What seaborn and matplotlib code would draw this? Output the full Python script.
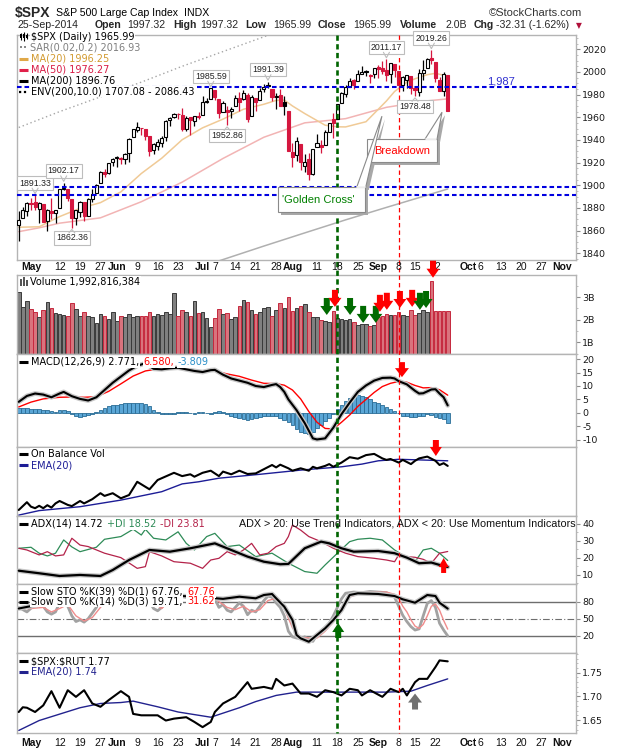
import numpy as np
import pandas as pd
import matplotlib
matplotlib.use("Agg")
import matplotlib.pyplot as plt
import matplotlib.patheffects as pe
from matplotlib.patches import Rectangle, Polygon
from matplotlib.ticker import MultipleLocator
import seaborn as sns

# ------------------------------------------------------------------ data
dates = pd.bdate_range("2014-04-28", "2014-09-25", freq="C",
                       holidays=["2014-05-26", "2014-07-04", "2014-09-01"])
prev_close = 1863.40

opens = [1865.00, 1870.78, 1877.10, 1884.39, 1885.30, 1879.45, 1883.69, 1868.53, 1877.39, 1875.27,
         1880.03, 1896.75, 1897.13, 1888.16, 1871.19, 1876.66, 1884.88, 1873.34, 1888.19, 1893.32,
         1902.01, 1911.77, 1910.60, 1920.33, 1923.87, 1923.07, 1923.06, 1928.52, 1942.41, 1948.97,
         1950.34, 1949.37, 1943.35, 1930.80, 1934.84, 1937.15, 1942.73, 1957.50, 1960.45, 1962.92,
         1961.97, 1949.27, 1959.89, 1956.56, 1960.79, 1962.29, 1973.06, 1975.88, 1984.22, 1976.39,
         1965.10, 1966.67, 1965.76, 1969.86, 1977.36, 1976.35, 1979.75, 1961.54, 1976.93, 1975.65,
         1985.32, 1988.07, 1984.60, 1978.25, 1980.03, 1973.21, 1965.14, 1929.80, 1926.62, 1936.34,
         1917.29, 1923.03, 1910.35, 1933.43, 1935.73, 1935.60, 1947.41, 1958.87, 1958.36, 1972.73,
         1980.46, 1986.82, 1992.60, 1991.74, 1998.59, 2000.54, 1997.42, 1998.45, 2004.07, 2003.57,
         2001.67, 1998.00, 2007.17, 2000.73, 1988.41, 1992.85, 1996.74, 1986.04, 1981.93, 1999.30,
         2003.07, 2012.74, 2009.08, 1992.78, 1983.34, 1997.32]
highs = [1877.01, 1880.60, 1885.20, 1888.59, 1891.33, 1885.51, 1883.69, 1878.83, 1889.07, 1878.57,
         1897.13, 1902.17, 1897.13, 1888.16, 1878.28, 1886.00, 1884.88, 1888.80, 1896.33, 1901.26,
         1912.28, 1914.46, 1920.03, 1924.03, 1925.88, 1925.07, 1928.63, 1941.74, 1949.44, 1955.55,
         1950.86, 1949.37, 1943.35, 1937.30, 1941.15, 1943.69, 1957.74, 1959.87, 1963.91, 1963.74,
         1968.17, 1960.83, 1959.89, 1961.47, 1964.24, 1978.58, 1976.67, 1985.59, 1984.22, 1976.39,
         1974.15, 1969.84, 1968.67, 1979.85, 1982.52, 1983.94, 1981.80, 1979.91, 1976.93, 1986.24,
         1989.23, 1991.39, 1984.60, 1981.52, 1984.85, 1978.90, 1965.14, 1937.35, 1942.92, 1936.34,
         1927.91, 1928.89, 1932.38, 1944.90, 1939.65, 1948.41, 1955.23, 1964.04, 1971.99, 1982.57,
         1988.57, 1994.76, 1993.54, 2001.95, 2005.04, 2002.14, 1998.55, 2003.38, 2006.12, 2009.28,
         2011.17, 2007.71, 2007.17, 2001.01, 1996.66, 1997.65, 1996.74, 1987.18, 2002.28, 2010.74,
         2012.34, 2019.26, 2009.08, 1995.41, 1999.79, 1997.32]
lows = [1850.61, 1870.78, 1872.69, 1878.04, 1878.50, 1866.77, 1867.72, 1859.79, 1870.05, 1867.02,
        1880.03, 1896.06, 1885.77, 1862.36, 1864.82, 1872.42, 1868.14, 1873.34, 1885.39, 1893.32,
        1902.01, 1907.30, 1909.82, 1916.64, 1915.98, 1918.79, 1918.60, 1920.50, 1942.41, 1947.16,
        1944.64, 1940.08, 1925.78, 1927.69, 1930.91, 1933.55, 1939.29, 1952.26, 1959.17, 1958.89,
        1948.34, 1947.49, 1944.69, 1952.18, 1958.22, 1962.29, 1972.58, 1975.88, 1975.68, 1959.46,
        1965.10, 1952.86, 1959.63, 1969.86, 1965.34, 1975.67, 1955.59, 1960.82, 1965.77, 1975.65,
        1982.44, 1985.79, 1974.37, 1967.31, 1969.95, 1962.42, 1930.67, 1916.37, 1921.20, 1913.77,
        1911.45, 1904.78, 1909.01, 1933.43, 1928.29, 1935.60, 1947.41, 1941.50, 1958.36, 1972.73,
        1977.68, 1986.82, 1984.76, 1991.74, 1998.59, 1996.20, 1990.52, 1994.65, 1994.85, 1998.14,
        1992.44, 1990.10, 1995.60, 1984.61, 1982.99, 1985.93, 1980.26, 1978.48, 1979.06, 1993.29,
        2003.07, 2006.59, 1991.01, 1982.77, 1978.63, 1965.99]
closes = [1869.43, 1878.33, 1883.95, 1883.68, 1881.14, 1884.66, 1867.72, 1878.21, 1875.63, 1878.48,
          1896.65, 1897.45, 1888.53, 1870.85, 1877.86, 1885.08, 1872.83, 1888.03, 1892.49, 1900.53,
          1911.91, 1909.78, 1920.03, 1923.57, 1924.97, 1924.24, 1927.88, 1940.46, 1949.44, 1951.27,
          1950.79, 1943.89, 1930.11, 1936.16, 1937.78, 1941.99, 1956.98, 1959.48, 1962.87, 1962.61,
          1949.98, 1959.53, 1957.22, 1960.96, 1960.23, 1973.32, 1974.62, 1985.44, 1977.65, 1963.71,
          1972.83, 1964.68, 1967.57, 1977.10, 1973.28, 1981.57, 1958.12, 1978.22, 1973.63, 1983.53,
          1987.01, 1987.98, 1978.34, 1978.91, 1969.95, 1970.07, 1930.67, 1925.15, 1938.99, 1920.21,
          1920.24, 1909.57, 1931.59, 1936.92, 1933.75, 1946.72, 1955.18, 1955.06, 1971.74, 1981.60,
          1986.51, 1992.37, 1988.40, 1997.92, 2000.02, 2000.12, 1996.74, 2003.37, 2002.28, 2000.72,
          1997.65, 2007.71, 2001.54, 1988.44, 1995.69, 1997.45, 1985.54, 1984.13, 1998.98, 2001.57,
          2011.36, 2010.40, 1994.29, 1982.77, 1998.30, 1965.99]

volume_b = [3.22, 2.58, 2.82, 2.47, 2.33, 2.11, 2.42, 2.78, 2.51, 2.29,
            2.26, 2.21, 2.17, 2.73, 2.49, 2.15, 2.33, 2.15, 2.12, 1.86,
            2.26, 2.15, 2.04, 2.33, 1.93, 2.15, 2.12, 2.24, 2.14, 2.15,
            2.15, 2.15, 2.36, 2.18, 2.27, 2.23, 2.33, 2.26, 3.18, 2.17,
            2.42, 2.36, 2.15, 2.82, 2.29, 2.33, 2.08, 1.67, 2.07, 2.47,
            2.26, 2.30, 2.04, 2.11, 2.61, 2.87, 2.78, 2.44, 2.26, 2.35,
            2.51, 2.55, 2.17, 2.44, 2.73, 2.54, 3.00, 2.38, 2.51, 2.60,
            2.70, 2.36, 2.11, 2.11, 1.99, 1.96, 1.92, 2.39, 2.07, 2.02,
            1.99, 2.04, 1.89, 1.77, 1.80, 1.80, 1.71, 1.75, 2.11, 2.17,
            2.24, 2.21, 2.19, 2.33, 2.21, 2.17, 2.44, 2.21, 2.32, 2.41,
            2.33, 3.72, 2.40, 2.40, 2.40, 2.40]
volume_dir = ("GGGRRGRGRG" "GGRRGGRGGG" "GRGGGRGGGG" "RRRGGGGGGR" "RGRGRGGGRR"
              "GRGGRGRGRG" "GGRGRGRRGR" "GRGGRGGRGG" "GGRGGGRGRR" "RGRRGGRRGG" "GRRRRR")

ma20_idx = [0, 5, 10, 15, 20, 25, 30, 35, 40, 45, 50, 55, 60, 63, 65, 67, 70, 75, 78, 80, 85, 87, 90, 92, 95, 97, 100, 102, 105]
ma20_val = [1863.0, 1863.4, 1872.4, 1879.7, 1884.7, 1894.2, 1910.4, 1923.9, 1940.2, 1950.7, 1958.4, 1967.1,
            1971.5, 1974.9, 1975.2, 1970.0, 1963.3, 1953.0, 1951.6, 1951.5, 1956.1, 1963.4, 1974.4, 1982.8,
            1991.0, 1994.0, 1997.6, 1998.8, 1996.25]
ma50_idx = [0, 5, 10, 20, 30, 40, 50, 60, 70, 80, 90, 100, 105]
ma50_val = [1859.1, 1862.5, 1866.6, 1871.3, 1885.5, 1902.8, 1923.7, 1942.4, 1955.1, 1958.8, 1968.8, 1974.5, 1976.27]
ma200_idx = [40, 50, 60, 70, 80, 90, 100, 105]
ma200_val = [1822.7, 1834.5, 1846.4, 1858.0, 1869.5, 1880.5, 1891.3, 1896.76]
env_idx = [0, 10, 20, 30, 40, 50, 60, 70]
env_val = [1951, 1965, 1978, 1991, 2005, 2018, 2031, 2044]
hlines_blue = [1987.0, 1898.8, 1891.33]

macd_idx = [0, 2, 4, 6, 8, 10, 11, 13, 15, 17, 19, 21, 23, 25, 27, 29, 31, 33, 35, 37, 39, 41, 43, 45, 47,
            48, 50, 52, 54, 56, 58, 60, 62, 63, 64, 65, 66, 68, 70, 72, 73, 75, 77, 79, 81, 83, 85, 87, 89,
            91, 92, 93, 95, 97, 98, 99, 101, 102, 103, 104, 105]
macd_val = [4.1, 6.3, 7.2, 6.8, 5.8, 7.2, 7.8, 6.2, 5.2, 4.6, 5.8, 8.5, 11.2, 13.5, 15.8, 17.5, 18.5, 16.4,
            16.2, 16.6, 16.8, 16.2, 15.6, 15.2, 15.9, 16.0, 14.2, 12.8, 12.0, 11.2, 10.0, 9.6, 10.4, 10.7,
            9.6, 7.8, 5.0, 1.0, -3.8, -9.5, -9.9, -9.5, -5.5, -0.5, 3.8, 7.8, 10.2, 12.0, 13.0, 13.1, 12.8,
            11.8, 10.6, 8.2, 7.2, 7.3, 8.7, 8.8, 7.2, 5.8, 2.771]
signal_idx = [0, 3, 6, 10, 13, 16, 19, 22, 25, 28, 31, 33, 36, 40, 44, 48, 51, 54, 57, 60, 63, 65, 67, 69,
              71, 73, 75, 77, 79, 81, 83, 85, 87, 89, 91, 93, 95, 97, 99, 101, 103, 105]
signal_val = [2.2, 4.0, 5.2, 5.8, 5.9, 5.8, 6.0, 8.0, 10.8, 13.7, 15.6, 16.1, 16.6, 16.5, 15.6, 15.6, 14.5,
              13.6, 12.2, 11.0, 10.9, 10.3, 8.5, 5.2, 0.5, -3.5, -5.8, -6.0, -3.5, -0.8, 2.4, 5.0, 7.6, 9.8,
              11.0, 11.7, 11.4, 10.2, 9.3, 9.4, 8.6, 6.58]
macd_hist = [1.9, 1.8, 1.7, 1.6, 1.5, 1.4, 1.2, 1.0, 0.8, 0.2, 1.0, 1.2, 0.6, -0.6, -1.0, -1.4, -1.2, -0.8,
             -0.5, 0.5, 1.0, 1.8, 2.4, 2.8, 3.0, 3.2, 3.5, 3.7, 3.8, 3.7, 3.6, 3.2, 2.6, 1.0, 0.2, -0.3,
             -0.5, -0.6, -0.3, 0.3, 0.5, 0.3, -0.2, -0.4, 0.2, 0.4, 0.1, -0.3, 0.5, 0.6, 0.3, -0.5,
             -1.0, -1.5, -1.8, -2.2, -2.5, -2.2, -1.8, -1.5, -1.2, -1.0, -1.3, -1.0, -1.8, -2.8, -3.5, -4.5,
             -6.0, -7.0, -7.5, -7.8, -7.3, -5.5, -4.5, -3.0, -1.8, -0.4, 1.5, 3.0, 4.5, 5.5,
             6.2, 6.5, 6.3, 5.8, 5.0, 4.2, 3.5, 2.8, 2.2, 1.6, 0.8, -0.2, -1.0, -1.3, -1.5, -1.4, -1.2, -1.0,
             -0.6, -0.9, -1.4, -2.0, -2.4, -3.809]

obv_idx = [0, 2, 3, 4, 5, 6, 7, 8, 9, 10, 12, 13, 15, 16, 18, 20, 21, 23, 25, 27, 29, 32, 34, 38, 40, 42,
           43, 45, 47, 49, 50, 52, 54, 56, 58, 60, 62, 63, 64, 66, 67, 69, 71, 72, 73, 75, 76, 77, 79, 81,
           83, 85, 87, 89, 90, 91, 93, 94, 96, 97, 98, 100, 102, 103, 104, 105]
obv_val = [2.0, 4.6, 3.1, 2.6, 3.4, 2.6, 3.6, 2.8, 4.2, 5.0, 3.7, 3.3, 5.0, 4.2, 5.6, 7.6, 6.7, 7.6, 5.9,
           7.0, 11.4, 8.9, 12.0, 14.4, 13.3, 13.9, 13.1, 14.4, 15.1, 13.3, 14.8, 13.9, 15.1, 14.0, 14.2,
           15.6, 17.0, 16.2, 17.1, 15.9, 15.1, 15.9, 15.1, 16.4, 15.9, 16.7, 17.3, 16.4, 17.8, 19.6, 19.1,
           20.3, 20.7, 19.2, 18.7, 19.0, 17.8, 18.7, 17.3, 18.4, 19.2, 19.8, 18.4, 17.0, 17.6, 16.7]
obv_ema_idx = [0, 5, 15, 25, 35, 40, 44, 49, 59, 69, 79, 84, 88, 93, 98, 105]
obv_ema_val = [0.3, 1.8, 3.1, 5.3, 8.1, 10.7, 11.4, 12.6, 13.9, 15.3, 16.4, 17.3, 18.4, 18.9, 18.7, 18.4]

adx_idx = [0, 5, 10, 15, 20, 23, 27, 32, 37, 42, 48, 52, 56, 60, 64, 66, 70, 74, 76, 79, 82, 88, 92, 95,
           98, 101, 103, 105]
adx_val = [12.5, 11.0, 9.4, 10.0, 9.4, 12.9, 18.8, 24.7, 23.7, 25.7, 28.6, 24.7, 20.8, 17.8, 16.3, 16.5,
           25.7, 29.6, 28.6, 25.7, 23.7, 24.1, 22.8, 20.2, 16.9, 17.3, 15.9, 14.72]
pdi_idx = [0, 3, 5, 7, 9, 11, 13, 15, 19, 21, 25, 28, 30, 31, 33, 36, 39, 41, 43, 46, 48, 51, 54, 58, 62,
           66, 70, 73, 75, 78, 81, 83, 86, 89, 92, 95, 97, 99, 101, 103, 105]
pdi_val = [25.7, 26.3, 22.8, 21.2, 22.8, 30.6, 26.5, 23.7, 26.3, 31.0, 32.6, 36.9, 33.5, 36.9, 31.6, 30.6,
           35.4, 28.6, 24.7, 32.6, 34.5, 26.7, 27.6, 20.8, 22.8, 16.9, 12.0, 11.0, 15.9, 22.8, 29.6, 31.0,
           31.6, 30.6, 24.7, 20.2, 17.8, 24.7, 25.7, 22.8, 18.52]
mdi_idx = [0, 2, 5, 7, 9, 11, 13, 15, 17, 21, 25, 29, 31, 32, 35, 38, 42, 45, 47, 49, 51, 53, 55, 57, 59,
           61, 63, 65, 66, 67, 69, 71, 74, 77, 80, 83, 87, 90, 92, 93, 95, 97, 99, 101, 103, 105]
mdi_val = [25.7, 24.7, 21.8, 23.7, 21.2, 21.8, 31.6, 27.6, 26.7, 22.8, 20.2, 13.9, 14.9, 23.7, 21.2, 17.8,
           16.9, 13.9, 18.8, 19.8, 23.7, 21.8, 24.7, 28.6, 21.8, 22.8, 26.7, 28.6, 32.6, 39.4, 36.4, 32.6,
           29.6, 25.7, 22.8, 20.8, 19.8, 18.8, 17.8, 21.8, 20.8, 20.4, 19.2, 16.9, 22.8, 23.81]

k39_idx = [0, 5, 10, 15, 20, 25, 30, 35, 40, 45, 50, 54, 58, 60, 62, 63, 65, 67, 68, 69, 71, 73, 75, 77,
           79, 81, 83, 88, 92, 94, 97, 100, 102, 103, 105]
k39_val = [68, 75, 80, 78, 85, 92, 92, 88, 90, 88, 85, 88.8, 86, 91.8, 93.6, 86, 71.2, 47.7, 21.3, 15.4,
           9.4, 21.3, 33.1, 47.7, 65.3, 91.8, 94.8, 93.6, 90, 84.2, 78.2, 91.8, 90, 78.2, 67.76]
k14_idx = [0, 2, 4, 6, 7, 8, 9, 10, 11, 12, 13, 14, 15, 16, 17, 18, 19, 20, 22, 25, 28, 31, 32, 33, 34,
           35, 36, 38, 40, 42, 43, 45, 47, 48, 49, 50, 51, 52, 53, 54, 55, 56, 57, 58, 59, 60, 61, 62, 63,
           64, 65, 66, 67, 68, 69, 70, 71, 72, 73, 74, 75, 76, 77, 78, 79, 80, 82, 84, 86, 88, 90, 92, 93,
           94, 95, 96, 97, 98, 99, 100, 101, 102, 103, 104, 105]
k14_val = [70, 62, 75, 72, 62, 58, 62, 78, 85, 72, 55, 45, 48, 44, 50, 60, 70, 82, 92, 95, 97, 92, 80, 68,
           64, 70, 85, 95, 90, 85, 73, 88, 96, 85, 70, 75, 65, 62, 70, 78, 72, 57, 65, 62, 72, 82, 90, 88,
           78, 70, 55, 28, 18, 16, 15, 18, 14, 10, 22, 28, 35, 42, 55, 70, 85, 95, 97, 96, 98, 97, 96, 88,
           72, 56, 45, 36, 30, 32, 55, 77, 82, 70, 42, 30, 19.71]
d3_idx = [0, 3, 6, 8, 10, 12, 14, 16, 18, 20, 22, 25, 28, 31, 33, 35, 37, 40, 43, 45, 47, 49, 51, 53, 55,
          57, 59, 61, 63, 65, 67, 69, 71, 73, 75, 77, 79, 81, 84, 90, 92, 93, 94, 95, 96, 97, 98, 99, 100,
          101, 102, 103, 104, 105]
d3_val = [68, 68, 70, 62, 68, 75, 55, 46, 52, 70, 85, 94, 96, 92, 78, 68, 82, 92, 82, 84, 92, 80, 70, 66,
          72, 62, 66, 82, 86, 68, 34, 17, 16, 16, 28, 44, 70, 88, 96, 97, 93, 86, 72, 62, 48, 37, 33, 40,
          55, 72, 76, 65, 47, 31.62]

ratio_idx = [0, 1, 2, 4, 6, 8, 10, 12, 14, 16, 18, 20, 22, 25, 27, 28, 30, 34, 36, 38, 41, 43, 45, 47, 48,
             50, 53, 56, 57, 60, 62, 63, 65, 67, 69, 71, 73, 75, 77, 79, 81, 83, 84, 86, 89, 91, 93, 94,
             95, 97, 98, 100, 102, 103, 105]
ratio_val = [1.667, 1.677, 1.676, 1.667, 1.681, 1.711, 1.676, 1.713, 1.699, 1.713, 1.685, 1.678, 1.692,
             1.711, 1.699, 1.663, 1.660, 1.660, 1.649, 1.653, 1.656, 1.646, 1.635, 1.646, 1.667, 1.685,
             1.699, 1.730, 1.716, 1.720, 1.716, 1.737, 1.723, 1.727, 1.706, 1.706, 1.699, 1.713, 1.709,
             1.702, 1.716, 1.713, 1.702, 1.713, 1.699, 1.716, 1.709, 1.716, 1.702, 1.730, 1.737, 1.737,
             1.762, 1.776, 1.774]
ratio_ema_idx = [0, 5, 15, 20, 25, 28, 34, 39, 47, 54, 58, 63, 68, 80, 90, 96, 100, 105]
ratio_ema_val = [1.628, 1.649, 1.676, 1.685, 1.687, 1.690, 1.678, 1.667, 1.656, 1.676, 1.689, 1.702,
                 1.709, 1.709, 1.709, 1.711, 1.723, 1.737]

date_labels = ["May", "12", "19", "27", "Jun", "9", "16", "23", "Jul", "7", "14", "21", "28", "Aug", "11",
               "18", "25", "Sep", "8", "15", "22", "Oct", "6", "13", "20", "27", "Nov"]
date_label_pos = [3, 10, 15, 20, 24, 29, 34, 39, 45, 48, 53, 58, 63, 67, 73, 78, 83, 88, 92.9, 97, 102,
                  110, 113, 118, 123, 128, 133]

n = len(dates)
assert n == 106
for arr in (opens, highs, lows, closes, volume_b, macd_hist):
    assert len(arr) == n, len(arr)
assert len(volume_dir) == n
for a, b in ((ma20_idx, ma20_val), (ma50_idx, ma50_val), (ma200_idx, ma200_val), (env_idx, env_val),
             (macd_idx, macd_val), (signal_idx, signal_val), (obv_idx, obv_val), (obv_ema_idx, obv_ema_val),
             (adx_idx, adx_val), (pdi_idx, pdi_val), (mdi_idx, mdi_val), (k39_idx, k39_val),
             (k14_idx, k14_val), (d3_idx, d3_val), (ratio_idx, ratio_val), (ratio_ema_idx, ratio_ema_val)):
    assert len(a) == len(b), (len(a), len(b))

# ------------------------------------------------------------------ figure
sns.set_theme(style="white")
plt.rcParams["font.family"] = ["DejaVu Sans"]

W, H = 620, 750
fig = plt.figure(figsize=(6.2, 7.5), dpi=100)
fig.patch.set_facecolor("white")
X0, X1 = 16.7, 576.0
XL = (-0.5, 136.4)


def add_panel(top, bottom):
    return fig.add_axes([X0 / W, 1 - bottom / H, (X1 - X0) / W, (bottom - top) / H])


ax_p = add_panel(35, 260)
ax_v = add_panel(275, 354.3)
ax_m = add_panel(354.3, 446.7)
ax_o = add_panel(446.7, 516)
ax_a = add_panel(516, 584.3)
ax_s = add_panel(584.3, 653.3)
ax_r = add_panel(653.3, 733.3)

UP, DN = "#000000", "#d5173f"
idx = np.arange(n)

# ---- candles
for i in range(n):
    o, h, l, c = opens[i], highs[i], lows[i], closes[i]
    pc = prev_close if i == 0 else closes[i - 1]
    col = UP if c >= pc else DN
    ax_p.vlines(i, l, h, color=col, lw=0.9, zorder=3)
    fill = "white" if c >= o else col
    ax_p.add_patch(Rectangle((i - 0.38, min(o, c)), 0.76, max(abs(c - o), 0.4),
                             facecolor=fill, edgecolor=col, lw=0.8, zorder=4))

sns.lineplot(x=env_idx, y=env_val, ax=ax_p, color="#a6a6a6", linewidth=1.0, linestyle=(0, (1, 2)), zorder=2)
sns.lineplot(x=ma200_idx, y=ma200_val, ax=ax_p, color="#b0b0b0", linewidth=1.1, zorder=2)
sns.lineplot(x=ma50_idx, y=ma50_val, ax=ax_p, color="#f2b4b4", linewidth=1.1, zorder=2)
sns.lineplot(x=ma20_idx, y=ma20_val, ax=ax_p, color="#f0ca96", linewidth=1.1, zorder=2)
for lv in hlines_blue:
    ax_p.axhline(lv, color="#0000e0", lw=1.5, ls=(0, (2.2, 1.4)), zorder=5)

# ---- volume
vcols = ["#808080" if d == "G" else "#d9737d" for d in volume_dir]
vedges = ["#3a3a3a" if d == "G" else "#c5283e" for d in volume_dir]
ax_v.bar(idx, volume_b, width=0.88, color=vcols, edgecolor=vedges, linewidth=0.7, zorder=2)

# ---- MACD
ax_m.bar(idx, macd_hist, width=0.92, color="#5aa6d6", edgecolor="#2a6d96", linewidth=0.6, zorder=2)
sns.lineplot(x=signal_idx, y=signal_val, ax=ax_m, color="#ff0000", linewidth=1.0, zorder=3)
halo = [pe.Stroke(linewidth=3.4, foreground="#c6c6c6"), pe.Normal()]
sns.lineplot(x=macd_idx, y=macd_val, ax=ax_m, color="black", linewidth=1.5, zorder=4, path_effects=halo)

# ---- OBV
sns.lineplot(x=obv_ema_idx, y=obv_ema_val, ax=ax_o, color="#1c1c96", linewidth=1.0, zorder=2)
sns.lineplot(x=obv_idx, y=obv_val, ax=ax_o, color="black", linewidth=1.5, zorder=3)

# ---- ADX
sns.lineplot(x=pdi_idx, y=pdi_val, ax=ax_a, color="#2e8b57", linewidth=0.9, zorder=2)
sns.lineplot(x=mdi_idx, y=mdi_val, ax=ax_a, color="#b4234a", linewidth=0.9, zorder=2)
sns.lineplot(x=adx_idx, y=adx_val, ax=ax_a, color="black", linewidth=1.6, zorder=3, path_effects=halo)

# ---- Slow STO
for lv, ls, lw in ((80, "-", 1.0), (20, "-", 1.0), (50, (0, (6, 2, 1, 2)), 0.8)):
    ax_s.axhline(lv, color="#6e6e6e", lw=lw, ls=ls, zorder=1)
sns.lineplot(x=k14_idx, y=k14_val, ax=ax_s, color="#a2a2a2", linewidth=2.0, zorder=2)
sns.lineplot(x=d3_idx, y=d3_val, ax=ax_s, color="#f08c8c", linewidth=1.0, zorder=3)
sns.lineplot(x=k39_idx, y=k39_val, ax=ax_s, color="black", linewidth=1.5, zorder=4, path_effects=halo)

# ---- SPX:RUT
sns.lineplot(x=ratio_ema_idx, y=ratio_ema_val, ax=ax_r, color="#22228e", linewidth=1.0, zorder=2)
sns.lineplot(x=ratio_idx, y=ratio_val, ax=ax_r, color="black", linewidth=1.5, zorder=3)


def style(ax, ylim, ticks=None, labels=None, minor=None):
    ax.set_xlim(*XL)
    ax.set_ylim(*ylim)
    ax.set_facecolor("white")
    ax.set_xlabel("")
    ax.set_ylabel("")
    ax.grid(False)
    for s in ax.spines.values():
        s.set_color("#b4b4b4")
        s.set_linewidth(1.0)
    ax.set_xticks([])
    ax.yaxis.tick_right()
    if ticks is None:
        ax.set_yticks([])
    else:
        ax.set_yticks(ticks)
        ax.set_yticklabels(labels)
    if minor is not None:
        ax.yaxis.set_minor_locator(MultipleLocator(minor))
    ax.tick_params(axis="y", which="major", right=True, left=False, direction="out", length=3,
                   width=0.8, color="#8c8c8c", pad=1.5, labelsize=6.8, labelcolor="#1a1a1a")
    ax.tick_params(axis="y", which="minor", right=True, left=False, direction="out", length=1.6,
                   width=0.6, color="#b4b4b4")


pt = list(range(1840, 2021, 20))
style(ax_p, (1834.1, 2032.6), pt, [str(v) for v in pt], 5)
style(ax_v, (0.47, 3.98), [1, 2, 3], ["1B", "2B", "3B"], 0.5)
mt = [-10, -5, 0, 5, 10, 15, 20]
style(ax_m, (-12.6, 21.8), mt, [str(v) for v in mt])
style(ax_o, (0, 23.1))
style(ax_a, (4.5, 44.7), [10, 20, 30, 40], ["10", "20", "30", "40"], 5)
style(ax_s, (-11.0, 110.7), [20, 50, 80], ["20", "50", "80"])
style(ax_r, (1.622, 1.791), [1.65, 1.70, 1.75], ["1.65", "1.70", "1.75"], 0.01)

# ------------------------------------------------------------------ overlay (pixel coords)
ov = fig.add_axes([0, 0, 1, 1], zorder=10)
ov.set_xlim(0, W)
ov.set_ylim(H, 0)
ov.axis("off")
ov.patch.set_alpha(0)
R = fig.canvas.get_renderer()


def to_px(ax, x, y):
    X, Y = ax.transData.transform((x, y))
    return float(X), float(H - Y)


def rich(x, y, segs, size=7.0, family="DejaVu Sans", bg=True, gap=None):
    g = size * 0.45 if gap is None else gap
    for s in segs:
        txt, col = s[0], s[1]
        wt = s[2] if len(s) > 2 else "normal"
        t = ov.text(x, y, txt, color=col, fontsize=size, family=family, fontweight=wt, ha="left",
                    va="center", zorder=9,
                    bbox=dict(facecolor="white", edgecolor="none", pad=0.5) if bg else None)
        x += t.get_window_extent(renderer=R).width + g
    return x


def leg_line(x, y, color, lw=2.2, ls="-"):
    ov.plot([x, x + 9], [y, y], color=color, lw=lw, ls=ls, solid_capstyle="butt", zorder=9)


def block_arrow(xc, ytip, direction, color, w=13, h=17, sw=6, hh=9):
    s = 1 if direction == "down" else -1
    yb = ytip - s * h
    yh = ytip - s * hh
    pts = [(xc, ytip), (xc - w / 2, yh), (xc - sw / 2, yh), (xc - sw / 2, yb), (xc + sw / 2, yb),
           (xc + sw / 2, yh), (xc + w / 2, yh)]
    ov.add_patch(Polygon(pts, closed=True, facecolor=color, edgecolor="none", zorder=7))


# header
ov.text(15, 12.5, "$SPX", fontsize=10, fontweight="bold", family="Liberation Sans", va="center")
rich(56, 13, [("S&P 500 Large Cap Index", "black"), ("INDX", "black")], size=7.6,
     family="Liberation Sans", bg=False, gap=6)
ov.text(582, 13, "\u00a9StockCharts.com", fontsize=8, family="Liberation Sans", va="center", ha="right",
        color="#333333")
hdr = [("25-Sep-2014", 17, "normal"), ("Open", 95, "bold"), ("1997.32", 127, "normal"),
       ("High", 173, "bold"), ("1997.32", 200, "normal"), ("Low", 245, "bold"),
       ("1965.99", 273, "normal"), ("Close", 318, "bold"), ("1965.99", 353, "normal"),
       ("Volume", 400, "bold"), ("2.0B", 445, "normal"), ("Chg", 474, "bold"),
       ("-32.31 (-1.62%)", 496, "normal")]
for txt, x, wt in hdr:
    ov.text(x, 25, txt, fontsize=7.6, family="Liberation Sans", fontweight=wt, va="center")
ov.text(576, 25.5, "\u25bc", fontsize=5.5, color="#b0103a", va="center")

# vertical event lines
for xi, col, lw, ls in ((77.9, "#006400", 1.9, (0, (2.0, 1.3))), (93.1, "#ff0000", 0.9, (0, (3.5, 2.5)))):
    xp, _ = to_px(ax_p, xi, 2000)
    ov.plot([xp, xp], [35, 733], color=col, lw=lw, ls=ls, zorder=3)

# date strips
months = {"May", "Jun", "Jul", "Aug", "Sep", "Oct", "Nov"}
for lab, pos in zip(date_labels, date_label_pos):
    xp, _ = to_px(ax_p, pos, 2000)
    for yy in (267.5, 743.5):
        ov.text(xp, yy, lab, ha="center", va="center", fontsize=7.5, family="Liberation Sans",
                fontweight="bold" if lab in months else "normal", color="#111111", zorder=4)

# price tags
tags = [(4, True), (11, True), (13, False), (47, True), (51, False), (61, True), (90, True), (97, False),
        (101, True)]
for i, above in tags:
    val = highs[i] if above else lows[i]
    xp, yp = to_px(ax_p, i, val)
    cy = yp - 12 if above else yp + 10
    ov.text(xp, cy, f"{val:.2f}", fontsize=6.3, family="Liberation Sans", ha="center", va="center",
            color="#222222", zorder=8,
            bbox=dict(boxstyle="square,pad=0.25", facecolor="white", edgecolor="#bdbdbd", lw=0.8))
    if above:
        ov.plot([xp - 3, xp, xp + 3], [cy + 5, yp - 1.5, cy + 5], color="#bdbdbd", lw=0.8, zorder=8)
    else:
        ov.plot([xp - 3, xp, xp + 3], [cy - 5, yp + 1.5, cy - 5], color="#bdbdbd", lw=0.8, zorder=8)

xp, yp = to_px(ax_p, 118, 1987)
ov.text(xp, yp - 5.5, "1,987", fontsize=8, family="Liberation Sans", color="#3030d0", ha="center",
        va="center", zorder=8)


# callouts
def callout(box, wedge, text, color, tx, ha):
    x0, y0, x1, y1 = box
    sh = 3
    ov.add_patch(Polygon([(p[0] + sh, p[1] + sh) for p in wedge], closed=True, facecolor="#a8a8a8",
                         edgecolor="none", zorder=6))
    ov.add_patch(Rectangle((x0 + sh, y0 + sh), x1 - x0, y1 - y0, facecolor="#a8a8a8", edgecolor="none",
                           zorder=6))
    ov.add_patch(Rectangle((x0, y0), x1 - x0, y1 - y0, facecolor="white", edgecolor="#8a8a8a", lw=0.8,
                           zorder=6.5))
    ov.add_patch(Polygon(wedge, closed=True, facecolor="white", edgecolor="#8a8a8a", lw=0.8, zorder=6.6))
    ov.plot([wedge[0][0] + 0.6, wedge[2][0] - 0.6], [y0, y0], color="white", lw=1.2, zorder=6.7)
    ov.text(tx, (y0 + y1) / 2 + 0.5, text, color=color, fontsize=8, family="Liberation Sans", ha=ha,
            va="center", zorder=6.8)


gx0, gy0 = to_px(ax_p, 63.5, 1898.5)
gx1, gy1 = to_px(ax_p, 84.7, 1876.5)
tipx, tipy = to_px(ax_p, 88.9, 1961.0)
callout((gx0, gy0, gx1, gy1), [(gx1 - 8, gy0), (tipx, tipy), (gx1 + 1, gy0)], "'Golden Cross'",
        "#008000", gx0 + 4, "left")
bx0, by0 = to_px(ax_p, 85.2, 1940.9)
bx1, by1 = to_px(ax_p, 102.4, 1920.6)
tipx, tipy = to_px(ax_p, 103.6, 1964.5)
callout((bx0, by0, bx1, by1), [(bx1 - 12, by0), (tipx, tipy), (bx1, by0)], "Breakdown", "#ff0000",
        (bx0 + bx1) / 2, "center")

# arrows
GREEN, RED, GRAY = "#006a00", "#ff0000", "#707070"
for xi, v in ((75.4, 2.21), (81.1, 2.21), (84.3, 1.86), (87.4, 1.86)):
    block_arrow(*to_px(ax_v, xi, v), "down", GREEN)
for xi, v in ((77.4, 2.57), (88.4, 2.35), (90.1, 2.44), (93.3, 2.52), (96.3, 2.57)):
    block_arrow(*to_px(ax_v, xi, v), "down", RED)
for xi, v in ((98.2, 2.44), (99.7, 2.52)):
    block_arrow(*to_px(ax_v, xi, v), "down", GREEN)
block_arrow(*to_px(ax_v, 101.4, 3.86), "down", RED)
block_arrow(*to_px(ax_m, 93.8, 13.3), "down", RED, w=14, h=15)
block_arrow(*to_px(ax_o, 102.1, 20.0), "down", RED, w=12, h=16)
block_arrow(*to_px(ax_a, 104.0, 20.0), "up", RED, w=10, h=15, sw=5)
block_arrow(*to_px(ax_s, 78.2, 42.4), "up", GREEN, w=12, h=15)
block_arrow(*to_px(ax_r, 97.0, 1.706), "up", GRAY, w=14, h=16)

# ---- legends
LX = 19
# price
ov.vlines([20.5, 23.5, 26.5], [32.5, 31.5, 33.0], [39.5, 40.5, 39.0], color="black", lw=0.8, zorder=9)
for xx, yy, hh in ((19.5, 34, 3.5), (22.5, 33.5, 4), (25.5, 34.5, 3)):
    ov.add_patch(Rectangle((xx, yy), 2, hh, facecolor="black", edgecolor="none", zorder=9))
rich(31, 36.5, [("$SPX (Daily) 1965.99", "black")])
for xx in (20, 24):
    ov.add_patch(Rectangle((xx, 46), 2.4, 2.4, facecolor="#8a8a8a", edgecolor="none", zorder=9))
rich(30, 47.5, [("SAR(0.02,0.2) 2016.93", "#7f7f7f")])
leg_line(LX, 58.5, "#e0a848")
rich(31, 58.5, [("MA(20) 1996.25", "#d29a30")])
leg_line(LX, 69.5, "#e0204a")
rich(31, 69.5, [("MA(50) 1976.27", "#d81c46")])
leg_line(LX, 80.5, "black")
rich(31, 80.5, [("MA(200) 1896.76", "black")])
leg_line(LX, 91.5, "black", lw=1.6, ls=(0, (1, 1.2)))
rich(31, 91.5, [("ENV(200,10.0) 1707.08 - 2086.43", "black")])

# volume
for xx, hh in ((19.5, 7), (22.5, 9), (25.5, 6)):
    ov.add_patch(Rectangle((xx, 286 - hh), 2, hh, facecolor="#555555", edgecolor="none", zorder=9))
rich(30, 282, [("Volume 1,992,816,384", "black")])
# macd
leg_line(LX, 362, "black")
rich(31, 362, [("MACD(12,26,9) 2.771,", "black"), ("6.580,", "#ff0000"), ("-3.809", "#2a8fc8")], gap=4)
# obv
leg_line(LX, 454, "black")
rich(31, 454, [("On Balance Vol", "black")])
leg_line(LX, 465, "#1c1c96")
rich(31, 465, [("EMA(20)", "#1c1c96")])
# adx
leg_line(LX, 524, "black")
rich(31, 524, [("ADX(14) 14.72", "black"), ("+DI 18.52", "#2e8b57"), ("-DI 23.81", "#b4234a")], gap=4)
ov.text(239, 524, "ADX > 20: Use Trend Indicators, ADX < 20: Use Momentum Indicators", fontsize=7.75,
        family="Liberation Sans", va="center", color="#111111", zorder=9)
# sto
leg_line(LX, 592, "black")
rich(31, 592, [("Slow STO %K(39) %D(1) 67.76,", "black"), ("67.76", "#ff0000")], gap=4.5)
leg_line(LX, 601.5, "black")
rich(31, 601.5, [("Slow STO %K(14) %D(3) 19.71,", "black"), ("31.62", "#ff0000")], gap=4.5)
# ratio
leg_line(LX, 661, "black")
rich(31, 661, [("\\$SPX:\\$RUT 1.77", "black")])
leg_line(LX, 672, "#22228e")
rich(31, 672, [("EMA(20) 1.74", "#22228e")])

fig.savefig("out.png", dpi=100, facecolor="white")
